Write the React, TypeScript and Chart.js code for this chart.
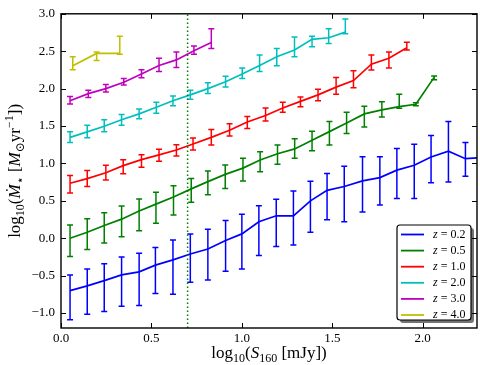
import React, { useEffect, useRef } from "react";
import { Chart, registerables } from "chart.js";
Chart.register(...registerables);

// ---- axes ----
const xMin = 0.0;
const xMax = 2.3;
const yMin = -1.2;
const yMax = 3.0;
const xTicks = [0.0, 0.5, 1.0, 1.5, 2.0];
const xTickLabels = ["0.0", "0.5", "1.0", "1.5", "2.0"];
const yTicks = [-1.0, -0.5, 0.0, 0.5, 1.0, 1.5, 2.0, 2.5, 3.0];
const yTickLabels = ["\u22121.0", "\u22120.5", "0.0", "0.5", "1.0", "1.5", "2.0", "2.5", "3.0"];

// flux limit: log10(5 mJy)
const fluxLimit = 0.7;

// ---- series ----
const seriesLabels = ["0.2", "0.5", "1.0", "2.0", "3.0", "4.0"];
const seriesColors = ["#0000ff", "#008000", "#ff0000", "#00bfbf", "#bf00bf", "#bfbf00"];

const z02X = [0.05, 0.145, 0.239, 0.335, 0.432, 0.522, 0.619, 0.715, 0.812, 0.91, 1.0, 1.094, 1.19, 1.285, 1.379, 1.471, 1.566, 1.667, 1.763, 1.857, 1.953, 2.046, 2.142, 2.236, 2.33];
const z02Y = [-0.70, -0.637, -0.567, -0.49, -0.45, -0.36, -0.29, -0.21, -0.145, -0.03, 0.058, 0.22, 0.30, 0.30, 0.50, 0.64, 0.692, 0.767, 0.81, 0.91, 0.976, 1.085, 1.164, 1.063, 1.08];
const z02Hi = [-0.49, -0.41, -0.34, -0.25, -0.20, -0.125, -0.025, 0.058, 0.12, 0.237, 0.32, 0.433, 0.52, 0.63, 0.76, 0.866, 0.963, 1.09, 1.09, 1.20, 1.256, 1.374, 1.56, 1.278, 1.30];
const z02Lo = [-1.09, -1.017, -0.98, -0.91, -0.90, -0.74, -0.75, -0.59, -0.56, -0.44, -0.41, -0.23, -0.11, -0.09, 0.08, 0.246, 0.22, 0.35, 0.443, 0.53, 0.53, 0.74, 0.753, 0.827, 0.85];

const z05X = [0.05, 0.145, 0.239, 0.335, 0.432, 0.525, 0.622, 0.72, 0.812, 0.908, 1.006, 1.101, 1.197, 1.292, 1.388, 1.484, 1.579, 1.677, 1.774, 1.87, 1.962, 2.063];
const z05Y = [0.0, 0.08, 0.17, 0.255, 0.364, 0.456, 0.55, 0.66, 0.757, 0.853, 0.937, 1.046, 1.13, 1.194, 1.31, 1.425, 1.54, 1.662, 1.715, 1.758, 1.79, 2.15];
const z05Hi = [0.176, 0.26, 0.34, 0.43, 0.525, 0.613, 0.70, 0.80, 0.90, 0.98, 1.07, 1.155, 1.245, 1.33, 1.43, 1.56, 1.685, 1.763, 1.824, 1.925, 1.81, 2.17];
const z05Lo = [-0.243, -0.15, -0.065, 0.02, 0.10, 0.20, 0.31, 0.48, 0.58, 0.666, 0.766, 0.89, 0.99, 1.07, 1.17, 1.245, 1.40, 1.488, 1.62, 1.737, 1.77, 2.12];

const z10X = [0.05, 0.145, 0.248, 0.344, 0.445, 0.542, 0.638, 0.73, 0.831, 0.932, 1.03, 1.131, 1.226, 1.324, 1.421, 1.521, 1.617, 1.716, 1.813, 1.912];
const z10Y = [0.735, 0.797, 0.875, 0.97, 1.05, 1.115, 1.18, 1.26, 1.348, 1.443, 1.553, 1.64, 1.74, 1.829, 1.916, 2.02, 2.108, 2.327, 2.405, 2.545];
const z10Hi = [0.84, 0.906, 0.976, 1.05, 1.115, 1.19, 1.25, 1.34, 1.452, 1.53, 1.627, 1.74, 1.816, 1.889, 1.99, 2.15, 2.24, 2.45, 2.49, 2.62];
const z10Lo = [0.604, 0.69, 0.78, 0.862, 0.95, 1.03, 1.10, 1.18, 1.247, 1.365, 1.466, 1.567, 1.685, 1.758, 1.837, 1.925, 2.01, 2.25, 2.275, 2.515];

const z20X = [0.05, 0.145, 0.239, 0.335, 0.432, 0.527, 0.619, 0.715, 0.812, 0.91, 1.002, 1.098, 1.193, 1.291, 1.388, 1.48, 1.572];
const z20Y = [1.348, 1.422, 1.496, 1.584, 1.662, 1.75, 1.837, 1.916, 2.0, 2.091, 2.196, 2.309, 2.427, 2.515, 2.659, 2.68, 2.755];
const z20Hi = [1.422, 1.51, 1.584, 1.653, 1.728, 1.816, 1.90, 1.977, 2.078, 2.165, 2.275, 2.45, 2.537, 2.69, 2.70, 2.80, 2.93];
const z20Lo = [1.278, 1.343, 1.422, 1.51, 1.597, 1.671, 1.771, 1.859, 1.933, 2.02, 2.134, 2.23, 2.305, 2.427, 2.558, 2.603, 2.733];

const z30X = [0.05, 0.151, 0.248, 0.347, 0.445, 0.542, 0.638, 0.735, 0.831];
const z30Y = [1.837, 1.933, 2.0, 2.086, 2.196, 2.309, 2.384, 2.506, 2.615];
const z30Hi = [1.894, 1.977, 2.056, 2.134, 2.252, 2.405, 2.49, 2.571, 2.80];
const z30Lo = [1.793, 1.88, 1.955, 2.047, 2.144, 2.23, 2.283, 2.458, 2.537];

const z40X = [0.065, 0.197, 0.325];
const z40Y = [2.305, 2.471, 2.471];
const z40Hi = [2.427, 2.49, 2.70];
const z40Lo = [2.252, 2.375, 2.458];

const seriesX = [z02X, z05X, z10X, z20X, z30X, z40X];
const seriesY = [z02Y, z05Y, z10Y, z20Y, z30Y, z40Y];
const seriesHi = [z02Hi, z05Hi, z10Hi, z20Hi, z30Hi, z40Hi];
const seriesLo = [z02Lo, z05Lo, z10Lo, z20Lo, z30Lo, z40Lo];

const SERIF = '"Liberation Serif", "DejaVu Serif", serif';

type Seg = { t: string; it?: boolean; sub?: boolean; sup?: boolean };

const xTitle: Seg[] = [
  { t: "log" }, { t: "10", sub: true }, { t: "(" }, { t: "S", it: true }, { t: "160", sub: true }, { t: " [mJy])" },
];
const yTitle: Seg[] = [
  { t: "log" }, { t: "10", sub: true }, { t: "(" }, { t: "M\u0307", it: true }, { t: "\u22C6", sub: true },
  { t: " [" }, { t: "M", it: true }, { t: "\u2299", sub: true }, { t: "yr" }, { t: "\u22121", sup: true }, { t: "])" },
];

function drawRich(ctx: CanvasRenderingContext2D, segs: Seg[], cx: number, by: number, size: number) {
  const fontFor = (s: Seg) =>
    `${s.it ? "italic " : ""}${s.sub || s.sup ? Math.round(size * 0.7) : size}px ${SERIF}`;
  const widths = segs.map((s) => {
    ctx.font = fontFor(s);
    return ctx.measureText(s.t).width;
  });
  const total = widths.reduce((a, b) => a + b, 0);
  let x = cx - total / 2;
  ctx.textBaseline = "alphabetic";
  ctx.textAlign = "left";
  segs.forEach((s, i) => {
    ctx.font = fontFor(s);
    const dy = s.sub ? size * 0.25 : s.sup ? -size * 0.42 : 0;
    ctx.fillText(s.t, x, by + dy);
    x += widths[i];
  });
}

const errorBarPlugin = {
  id: "errorBars",
  afterDatasetDraw(chart: any, args: any) {
    const ds = chart.data.datasets[args.index];
    if (!ds.errLo) return;
    const { ctx, chartArea: a } = chart;
    const xs = chart.scales.x;
    const ys = chart.scales.y;
    ctx.save();
    ctx.beginPath();
    ctx.rect(a.left, a.top, a.right - a.left, a.bottom - a.top);
    ctx.clip();
    ctx.strokeStyle = ds.borderColor;
    ctx.lineWidth = 1.5;
    ds.data.forEach((p: any, i: number) => {
      const px = xs.getPixelForValue(p.x);
      const y1 = ys.getPixelForValue(ds.errLo[i]);
      const y2 = ys.getPixelForValue(ds.errHi[i]);
      ctx.beginPath();
      ctx.moveTo(px, y1);
      ctx.lineTo(px, y2);
      ctx.moveTo(px - 3, y1);
      ctx.lineTo(px + 3, y1);
      ctx.moveTo(px - 3, y2);
      ctx.lineTo(px + 3, y2);
      ctx.stroke();
    });
    ctx.restore();
  },
};

const decorPlugin = {
  id: "decor",
  afterDraw(chart: any) {
    const { ctx, chartArea: a } = chart;
    const xs = chart.scales.x;
    const ys = chart.scales.y;
    ctx.save();
    // frame
    ctx.strokeStyle = "#000";
    ctx.lineWidth = 1.4;
    ctx.strokeRect(a.left, a.top, a.right - a.left, a.bottom - a.top);
    // inward ticks on all sides
    ctx.lineWidth = 1;
    const tl = 5;
    ctx.beginPath();
    xTicks.forEach((v) => {
      const px = Math.round(xs.getPixelForValue(v)) + 0.5;
      ctx.moveTo(px, a.bottom);
      ctx.lineTo(px, a.bottom - tl);
      ctx.moveTo(px, a.top);
      ctx.lineTo(px, a.top + tl);
    });
    yTicks.forEach((v) => {
      const py = Math.round(ys.getPixelForValue(v)) + 0.5;
      ctx.moveTo(a.left, py);
      ctx.lineTo(a.left + tl, py);
      ctx.moveTo(a.right, py);
      ctx.lineTo(a.right - tl, py);
    });
    ctx.stroke();

    // axis titles
    ctx.fillStyle = "#000";
    drawRich(ctx, xTitle, (a.left + a.right) / 2, 358, 17);
    ctx.save();
    ctx.translate(20, (a.top + a.bottom) / 2);
    ctx.rotate(-Math.PI / 2);
    drawRich(ctx, yTitle, 0, 0, 17);
    ctx.restore();

    // legend
    const entries = chart.data.datasets.filter((d: any) => d.errLo);
    const rowH = 16.1;
    const lw = 74;
    const lh = 95;
    const lx = a.right - 6 - lw;
    const ly = a.bottom - 8 - lh;
    const r = 3;
    const roundRect = (x: number, y: number, w: number, h: number) => {
      ctx.beginPath();
      ctx.moveTo(x + r, y);
      ctx.lineTo(x + w - r, y);
      ctx.quadraticCurveTo(x + w, y, x + w, y + r);
      ctx.lineTo(x + w, y + h - r);
      ctx.quadraticCurveTo(x + w, y + h, x + w - r, y + h);
      ctx.lineTo(x + r, y + h);
      ctx.quadraticCurveTo(x, y + h, x, y + h - r);
      ctx.lineTo(x, y + r);
      ctx.quadraticCurveTo(x, y, x + r, y);
      ctx.closePath();
    };
    ctx.fillStyle = "rgba(0,0,0,0.55)";
    roundRect(lx + 3, ly + 3, lw, lh);
    ctx.fill();
    ctx.fillStyle = "#fff";
    roundRect(lx, ly, lw, lh);
    ctx.fill();
    ctx.strokeStyle = "#000";
    ctx.lineWidth = 1.2;
    ctx.stroke();
    entries.forEach((d: any, i: number) => {
      const cy = ly + 9.5 + i * rowH;
      ctx.strokeStyle = d.borderColor;
      ctx.lineWidth = 1.8;
      ctx.beginPath();
      ctx.moveTo(lx + 4, cy);
      ctx.lineTo(lx + 27, cy);
      ctx.stroke();
      ctx.fillStyle = "#000";
      ctx.textBaseline = "middle";
      ctx.textAlign = "left";
      ctx.font = `italic 12px ${SERIF}`;
      const tx = lx + 36;
      ctx.fillText("z", tx, cy);
      const zw = ctx.measureText("z").width;
      ctx.font = `12px ${SERIF}`;
      ctx.fillText(" = " + d.label, tx + zw, cy);
    });
    ctx.restore();
  },
};

export default function App() {
  const ref = useRef<HTMLCanvasElement | null>(null);
  useEffect(() => {
    document.body.style.margin = "0";
    const canvas = ref.current;
    if (!canvas) return;
    const datasets: any[] = seriesLabels.map((lab, k) => ({
      label: lab,
      data: seriesX[k].map((x, i) => ({ x, y: seriesY[k][i] })),
      errLo: seriesLo[k],
      errHi: seriesHi[k],
      borderColor: seriesColors[k],
      backgroundColor: seriesColors[k],
      borderWidth: 1.7,
      pointRadius: 0,
      showLine: true,
      tension: 0,
      fill: false,
      order: 20 - k,
    }));
    datasets.push({
      label: "limit",
      data: [
        { x: fluxLimit, y: yMin },
        { x: fluxLimit, y: yMax },
      ],
      borderColor: "#008000",
      borderWidth: 1.5,
      borderDash: [1.5, 2.5],
      pointRadius: 0,
      showLine: true,
      fill: false,
      order: 0,
    });
    const chart = new Chart(canvas, {
      type: "scatter",
      data: { datasets },
      options: {
        animation: false,
        responsive: false,
        devicePixelRatio: 1,
        events: [],
        layout: { padding: { top: 8, right: 3, left: 0, bottom: 0 } },
        plugins: { legend: { display: false }, tooltip: { enabled: false }, title: { display: false } },
        scales: {
          x: {
            type: "linear",
            min: xMin,
            max: xMax,
            afterBuildTicks: (s: any) => {
              s.ticks = xTicks.map((value) => ({ value }));
            },
            afterFit: (s: any) => {
              s.height = 37;
            },
            ticks: {
              callback: (_v: any, i: number) => xTickLabels[i],
              font: { family: SERIF, size: 13 },
              color: "#000",
              padding: 3,
              maxRotation: 0,
            },
            grid: { display: false, drawTicks: false },
            border: { display: false },
          },
          y: {
            type: "linear",
            min: yMin,
            max: yMax,
            afterBuildTicks: (s: any) => {
              s.ticks = yTicks.map((value) => ({ value }));
            },
            afterFit: (s: any) => {
              s.width = 61;
            },
            ticks: {
              callback: (_v: any, i: number) => yTickLabels[i],
              font: { family: SERIF, size: 13 },
              color: "#000",
              padding: 6,
            },
            grid: { display: false, drawTicks: false },
            border: { display: false },
          },
        },
      },
      plugins: [errorBarPlugin, decorPlugin],
    } as any);
    return () => chart.destroy();
  }, []);
  return (
    <div style={{ width: 480, height: 365, background: "#fff" }}>
      <canvas ref={ref} width={480} height={365} style={{ display: "block" }} />
    </div>
  );
}
